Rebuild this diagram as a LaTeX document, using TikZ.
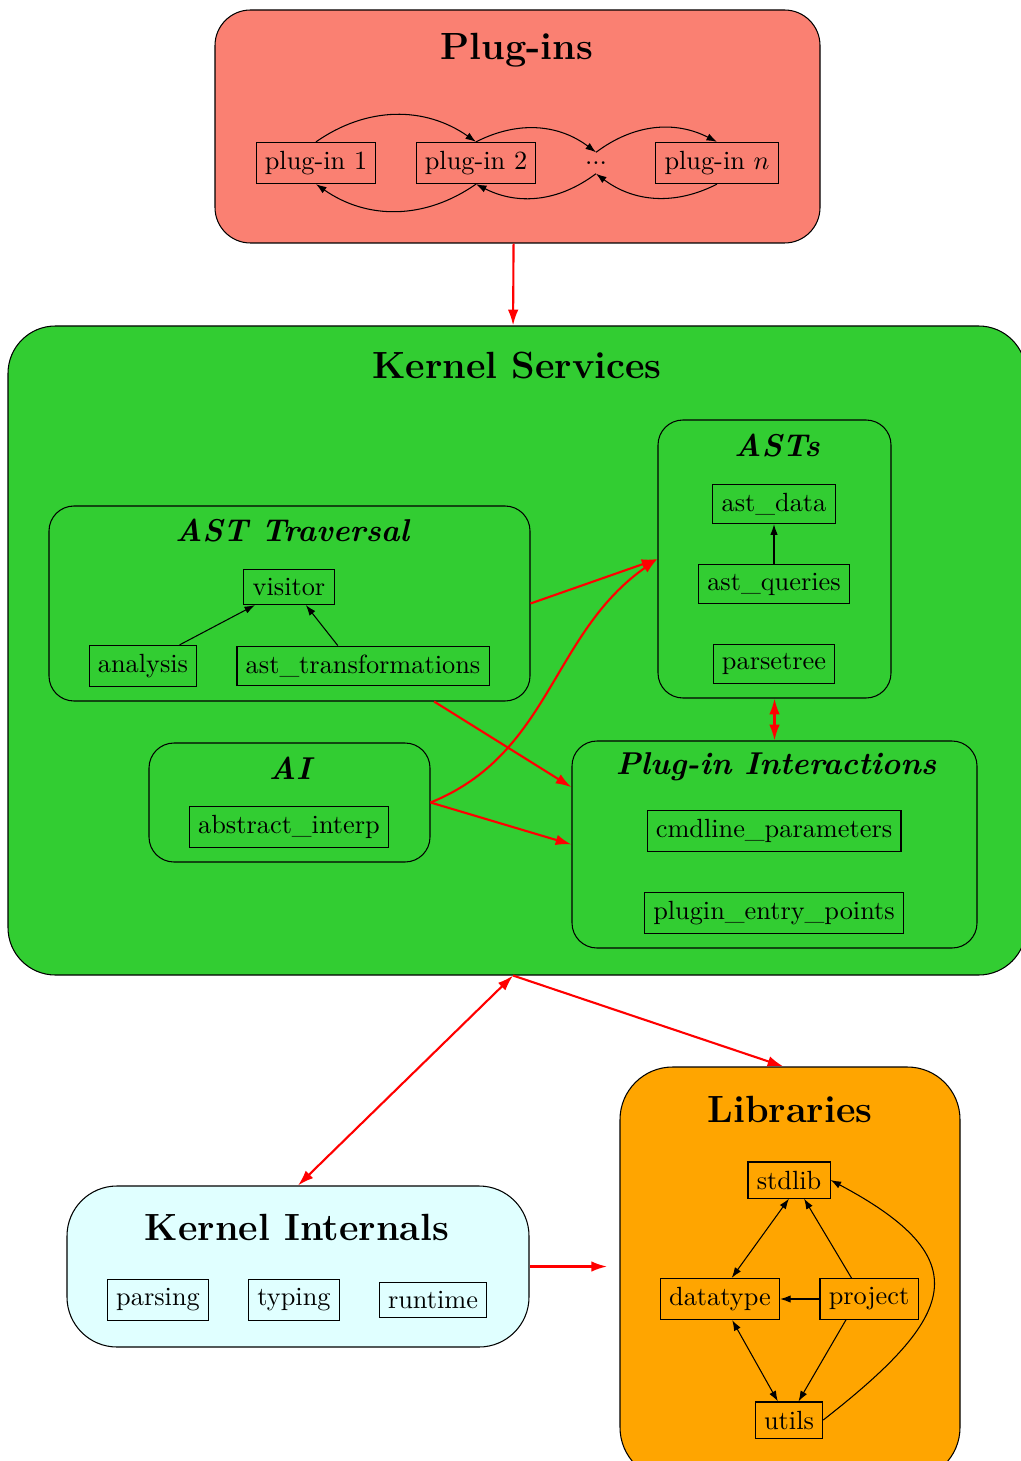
\documentclass[tikz,border=0pt]{standalone}
\usetikzlibrary{fit,calc,arrows.meta}
\definecolor{salmonc}{HTML}{FA8072}
\definecolor{limec}{HTML}{32CD32}
\definecolor{orangec}{HTML}{FFA500}
\definecolor{cyanc}{HTML}{E0FFFF}
\begin{document}
\begin{tikzpicture}[x=0.38pt,y=0.38pt,
  box/.style={draw, inner sep=3.33pt, font=\normalsize},
  cont/.style={draw, inner sep=0pt, rounded corners=#1},
  bigtitle/.style={font=\Large\bfseries},
  subtitle/.style={font=\large\bfseries\itshape},
  redarr/.style={draw=red, line width=0.8pt, -{Latex[length=6pt,width=4pt]}},
  redboth/.style={draw=red, line width=0.8pt, {Latex[length=6pt,width=4pt]}-{Latex[length=6pt,width=4pt]}},
  blk/.style={-{Latex[length=4pt,width=2.8pt]}},
  blkboth/.style={{Latex[length=4pt,width=2.8pt]}-{Latex[length=4pt,width=2.8pt]}}]
\useasboundingbox (0,0) rectangle (1020,-1461);

% Plug-ins
\node[cont=13.5pt, fill=salmonc, fit={(215,-10) (820,-243)}] (plugins) {};
\node[bigtitle] (plugtitle) at (517,-50) {Plug-ins};
\node[box] (p1) at (316,-163) {plug-in 1};
\node[box] (p2) at (476,-163) {plug-in 2};
\node[inner sep=3.33pt] (dots) at (596,-163) {...};
\node[box] (pn) at (717,-163) {plug-in $n$};
\draw[blk] (p1.north) to[bend left=35] (p2.north);
\draw[blk] (p2.north) to[bend left=32] (dots.north);
\draw[blk] (dots.north) to[bend left=32] (pn.north);
\draw[blk] (p2.south) to[bend left=35] (p1.south);
\draw[blk] (dots.south) to[bend left=32] (p2.south);
\draw[blk] (pn.south) to[bend left=32] (dots.south);

% Kernel Services
\node[cont=18pt, fill=limec, fit={(8,-326) (1026,-975)}] (kernel) {};
\node[bigtitle] (kerneltitle) at (517,-366) {Kernel Services};

% AST Traversal
\node[cont=9.5pt, fill=limec, fit={(49,-506) (530,-701)}] (astt) {};
\node[subtitle] (astttitle) at (292,-531) {AST Traversal};
\node[box] (visitor) at (289,-587) {visitor};
\node[box] (analysis) at (143,-666) {analysis};
\node[box] (asttr) at (363,-666) {ast\_transformations};
\draw[blk] (analysis.30) -- (visitor.208);
\draw[blk] (asttr.141) -- (visitor.313);

% ASTs
\node[cont=9.5pt, fill=limec, fit={(658,-420) (891,-698)}] (asts) {};
\node[subtitle] (aststitle) at (777,-446) {ASTs};
\node[box] (astdata) at (774,-504) {ast\_data};
\node[box] (astq) at (774,-584) {ast\_queries};
\node[box] (parsetree) at (774,-664) {parsetree};
\draw[blk] (astq.north) -- (astdata.south);

% Plug-in Interactions
\node[cont=9.5pt, fill=limec, fit={(572,-741) (977,-948)}] (pi) {};
\node[subtitle] (pititle) at (776,-767) {Plug-in Interactions};
\node[box] (cmdline) at (774,-831) {cmdline\_parameters};
\node[box] (entry) at (774,-913) {plugin\_entry\_points};

% AI
\node[cont=9.5pt, fill=limec, fit={(149,-743) (430,-862)}] (ai) {};
\node[subtitle] (aititle) at (290,-768) {AI};
\node[box] (absint) at (289,-827) {abstract\_interp};

% red arrows inside kernel
\draw[redarr] (astt.east) -- (asts.west);
\draw[redarr] ($(astt.south)!0.6!(astt.south east)$) -- ($(pi.west)!0.55!(pi.north west)$);
\draw[redarr] (ai.east) to[out=22,in=215] (asts.west);
\draw[redarr] (ai.east) -- (pi.west);
\draw[redboth] (asts.south) -- (pi.north);

% Kernel Internals
\node[cont=19pt, fill=cyanc, fit={(67,-1186) (529,-1347)}] (ki) {};
\node[bigtitle] (kititle) at (297,-1227) {Kernel Internals};
\node[box] (parsing) at (158,-1300) {parsing};
\node[box] (typing) at (294,-1300) {typing};
\node[box] (runtime) at (433,-1300) {runtime};

% Libraries
\node[cont=20pt, fill=orangec, fit={(620,-1067) (960,-1480)}] (lib) {};
\node[bigtitle] (libtitle) at (790,-1109) {Libraries};
\node[box] (stdlib) at (789,-1180) {stdlib};
\node[box] (datatype) at (720,-1299) {datatype};
\node[box] (project) at (869,-1299) {project};
\node[box] (utils) at (789,-1420) {utils};
\draw[blkboth] (stdlib.south) -- (datatype.61);
\draw[blk] (project.130) -- (stdlib.309);
\draw[blk] (project.west) -- (datatype.east);
\draw[blkboth] (datatype.300) -- (utils.121);
\draw[blk] (project.222) -- (utils.63);
\draw[blk] (utils.east) to[out=38,in=-28,looseness=1.8] (stdlib.east);

% top-level red arrows
\draw[redarr] ([xshift=-1.5pt]plugins.south) -- ([xshift=-1.5pt]kernel.north);
\draw[redboth] ([xshift=-1.5pt]kernel.south) -- (ki.north);
\draw[redarr] ([xshift=-1.5pt]kernel.south) -- ([xshift=-2.5pt]lib.north);
\draw[redarr, shorten >=4.7pt] (ki.east) -- (ki.east -| lib.west);
\end{tikzpicture}
\end{document}
